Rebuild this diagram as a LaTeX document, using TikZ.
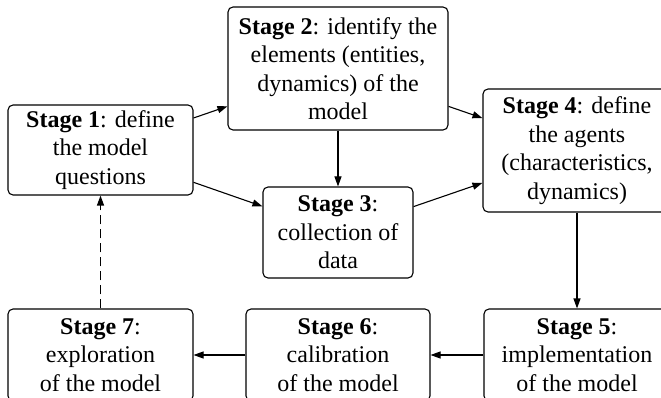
\documentclass[tikz,border=0pt]{standalone}
\usepackage{fontspec}
\setmainfont{Liberation Serif}
\newfontfamily\stagefont{Liberation Serif}
\usetikzlibrary{arrows.meta}
\begin{document}
\begin{tikzpicture}[x=1pt,y=-1pt,
  stagebox/.style={draw, line width=1.1pt, rounded corners=5pt, align=center,
    inner sep=1pt, font=\stagefont\fontsize{24}{28.5}\selectfont},
  arr/.style={line width=1.1pt, -{Triangle[length=10pt,width=7pt]}},
  dasharr/.style={arr, dash pattern=on 9pt off 5pt}]
  \clip (0,0) rectangle (661,398);

  % stage boxes (positions given by centre, size by minimum width/height)
  \node[stagebox, minimum width=185pt, minimum height=90pt]  (s1) at (100.5,150)
    {\textbf{Stage 1}: define\\the model\\questions};
  \node[stagebox, minimum width=220pt, minimum height=123pt] (s2) at (338,68.5)
    {\textbf{Stage 2}: identify the\\elements (entities,\\dynamics) of the\\model};
  \node[stagebox, minimum width=150pt, minimum height=91pt]  (s3) at (338,232.5)
    {\textbf{Stage 3}:\\collection of\\data};
  \node[stagebox, minimum width=188pt, minimum height=123pt] (s4) at (577,150.5)
    {\textbf{Stage 4}: define\\the agents\\(characteristics,\\dynamics)};
  \node[stagebox, minimum width=186pt, minimum height=92pt]  (s5) at (577,355)
    {\textbf{Stage 5}:\\implementation\\of the model};
  \node[stagebox, minimum width=184pt, minimum height=92pt]  (s6) at (338,355)
    {\textbf{Stage 6}:\\calibration\\of the model};
  \node[stagebox, minimum width=185pt, minimum height=92pt]  (s7) at (100.5,355)
    {\textbf{Stage 7}:\\exploration\\of the model};

  % workflow connectors
  \draw[arr] (s1) -- (s2);
  \draw[arr] (s1) -- (s3);
  \draw[arr] (s2) -- (s3);
  \draw[arr] (s2) -- (s4);
  \draw[arr] (s3) -- (s4);
  \draw[arr] (s4) -- (s5);
  \draw[arr] (s5) -- (s6);
  \draw[arr] (s6) -- (s7);
  \draw[dasharr] (s7) -- (s1);
\end{tikzpicture}
\end{document}
